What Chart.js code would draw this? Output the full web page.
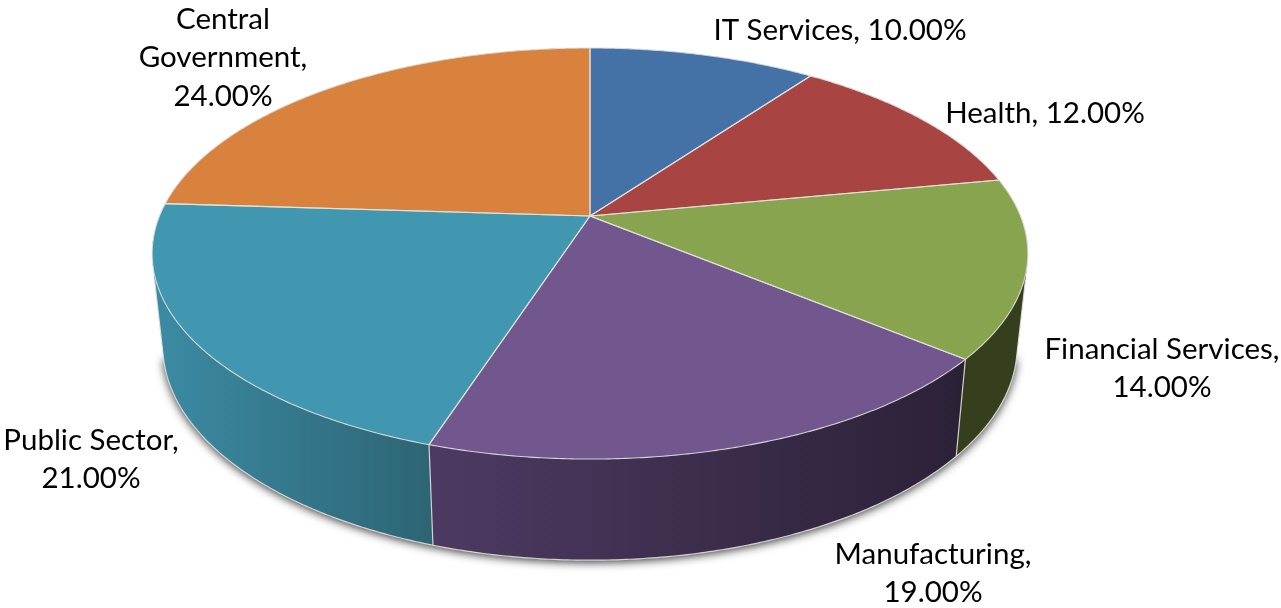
<!DOCTYPE html>
<html>
<head>
<meta charset="utf-8">
<style>html,body{margin:0;padding:0;background:#fff}canvas{display:block}</style>
<script src="https://cdn.jsdelivr.net/npm/chart.js@4"></script>
</head>
<body>
<canvas id="c" width="1281" height="608"></canvas>
<script>
const categories = ['IT Services', 'Health', 'Financial Services', 'Manufacturing', 'Public Sector', 'Central Government'];
const shares = [10, 12, 14, 19, 21, 24];
const faceColors = ['#4471a6', '#a84442', '#88a44e', '#71578d', '#4197af', '#d9823d'];
const wallLeft = ['#2e4a6c', '#6e2c2b', '#363f1d', '#4d3a62', '#3b8aa3', '#8d5427'];
const wallRight = ['#2e4a6c', '#6e2c2b', '#363f1d', '#2b2137', '#2d6574', '#8d5427'];
const labelLines = [['IT Services, 10.00%'], ['Health, 12.00%'], ['Financial Services,', '14.00%'], ['Manufacturing,', '19.00%'], ['Public Sector,', '21.00%'], ['Central', 'Government,', '24.00%']];
const labelAnchors = [[840, 30], [1045, 113], [1162, 349], [933, 554], [91, 440], [223, 19]];

// Perspective view of the disc: angle (from 12 o'clock, clockwise) -> page position
const K = 0.1825;
const TOP = {cx: 590, cy: 216, a: 430.5, b: 198.7};
const BASE = {cx: 590, cy: 307, a: 420, b: 207};
const W = 1281, H = 608;
function proj(r, th) {
  const u = Math.sin(th), v = Math.cos(th), w = 1 + K * v;
  return [r.cx + r.a * u / w, r.cy - r.b * v / w];
}
function rimPath(ctx, r, a0, a1, first) {
  const n = Math.max(2, Math.ceil(Math.abs(a1 - a0) / 0.008));
  for (let i = 0; i <= n; i++) {
    const p = proj(r, a0 + (a1 - a0) * i / n);
    if (i === 0 && first) ctx.moveTo(p[0], p[1]); else ctx.lineTo(p[0], p[1]);
  }
}
// Outline of the whole body: convex hull of both rims
function bodyHull() {
  const pts = [];
  for (let i = 0; i < 720; i++) {
    const t = i * Math.PI / 360;
    pts.push(proj(TOP, t), proj(BASE, t));
  }
  pts.sort((p, q) => p[0] - q[0] || p[1] - q[1]);
  const cross = (o, a, b) => (a[0] - o[0]) * (b[1] - o[1]) - (a[1] - o[1]) * (b[0] - o[0]);
  const half = list => {
    const h = [];
    list.forEach(p => {
      while (h.length > 1 && cross(h[h.length - 2], h[h.length - 1], p) <= 0) h.pop();
      h.push(p);
    });
    h.pop();
    return h;
  };
  return half(pts).concat(half(pts.slice().reverse()));
}
function polygon(ctx, pts) {
  ctx.beginPath();
  pts.forEach((p, i) => i ? ctx.lineTo(p[0], p[1]) : ctx.moveTo(p[0], p[1]));
  ctx.closePath();
}
const LINE = 'rgba(226,226,222,0.9)';
const isFront = a => Math.cos(a) < -0.1;

const pie3d = {
  id: 'pie3d',
  beforeDatasetsDraw(chart) {
    const ctx = chart.ctx;
    const arcs = chart.getDatasetMeta(0).data;
    const spans = arcs.map(a => [a.startAngle + Math.PI / 2, a.endAngle + Math.PI / 2]);
    const hull = bodyHull();
    ctx.save();
    // soft shadow around the lower body only
    ctx.save();
    ctx.shadowColor = 'rgba(0,0,0,0.8)';
    ctx.shadowBlur = 10;
    ctx.shadowOffsetY = 2;
    ctx.fillStyle = '#444';
    polygon(ctx, hull.filter(p => p[1] >= 298));
    ctx.fill();
    ctx.restore();
    // walls of the slices that face the viewer
    arcs.forEach((a, i) => {
      const [a0, a1] = spans[i];
      if (!isFront(a0) && !isFront(a1)) return;
      const lf = isFront(a1), rf = isFront(a0);
      const lt = lf ? proj(TOP, a1) : [0, 0], lb = lf ? proj(BASE, a1) : [0, H];
      const rt = rf ? proj(TOP, a0) : [W, 0], rb = rf ? proj(BASE, a0) : [W, H];
      ctx.save();
      polygon(ctx, [[lt[0], 0], [rt[0], 0], rt, rb, [rb[0], H], [lb[0], H], lb, lt]);
      ctx.clip();
      const gr = ctx.createLinearGradient(lf ? lt[0] : 160, 0, rf ? rt[0] : 1020, 0);
      gr.addColorStop(0, wallLeft[i]);
      gr.addColorStop(1, wallRight[i]);
      ctx.fillStyle = gr;
      polygon(ctx, hull);
      ctx.fill();
      ctx.restore();
    });
    // seams and lower outline
    ctx.strokeStyle = LINE;
    ctx.lineWidth = 1.2;
    ctx.save();
    ctx.beginPath();
    ctx.rect(0, 280, W, H - 280);
    ctx.clip();
    polygon(ctx, hull);
    ctx.stroke();
    ctx.restore();
    arcs.forEach((a, i) => {
      const [a0] = spans[i];
      if (isFront(a0)) {
        const p = proj(TOP, a0), q = proj(BASE, a0);
        ctx.beginPath(); ctx.moveTo(p[0], p[1]); ctx.lineTo(q[0], q[1]); ctx.stroke();
      }
    });
    // top face
    arcs.forEach((a, i) => {
      const [a0, a1] = spans[i];
      ctx.fillStyle = a.options.backgroundColor;
      ctx.beginPath();
      ctx.moveTo(TOP.cx, TOP.cy);
      rimPath(ctx, TOP, a0, a1, false);
      ctx.closePath();
      ctx.fill();
    });
    arcs.forEach((a, i) => {
      const [a0, a1] = spans[i];
      ctx.strokeStyle = LINE;
      ctx.lineWidth = 1.1;
      ctx.beginPath();
      ctx.moveTo(TOP.cx, TOP.cy);
      rimPath(ctx, TOP, a0, a1, false);
      ctx.closePath();
      ctx.stroke();
    });
    ctx.restore();
    return false;
  },
  afterDraw(chart) {
    const ctx = chart.ctx;
    ctx.save();
    ctx.font = '29.5px Lato, Carlito, sans-serif';
    ctx.fillStyle = '#000';
    ctx.textAlign = 'center';
    ctx.textBaseline = 'middle';
    labelLines.forEach((lines, i) => {
      lines.forEach((t, j) => ctx.fillText(t, labelAnchors[i][0], labelAnchors[i][1] + j * 38.5));
    });
    ctx.restore();
  }
};

new Chart(document.getElementById('c'), {
  type: 'pie',
  data: {labels: categories, datasets: [{data: shares, backgroundColor: faceColors, borderWidth: 0}]},
  options: {
    responsive: false,
    animation: false,
    plugins: {legend: {display: false}, tooltip: {enabled: false}}
  },
  plugins: [pie3d]
});
</script>
</body>
</html>
